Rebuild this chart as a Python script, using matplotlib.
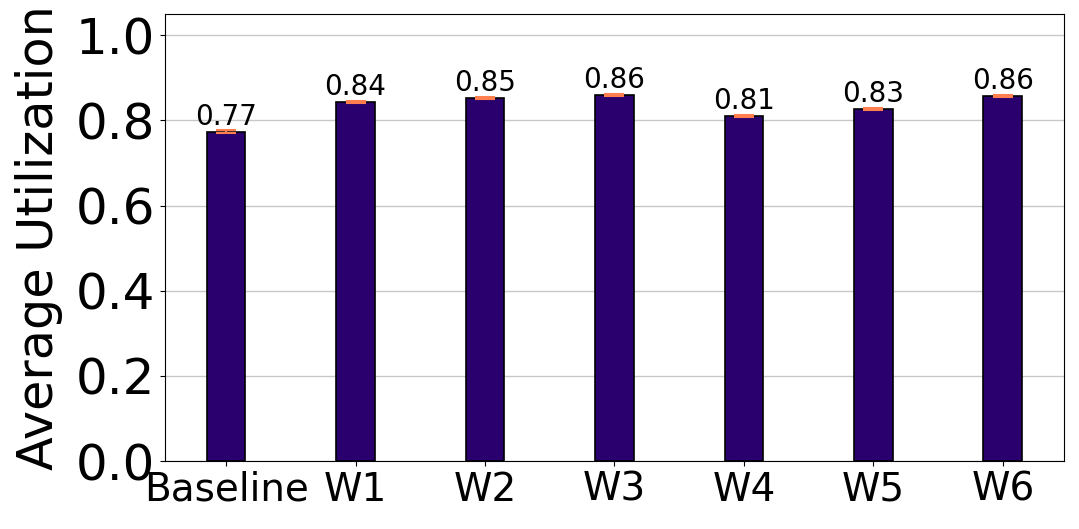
import matplotlib
matplotlib.use("Agg")
import matplotlib.pyplot as plt
import numpy as np

# average utilization per workload (bar heights) and the small spread on top
labels = ["Baseline", "W1", "W2", "W3", "W4", "W5", "W6"]
utilization = [0.774, 0.844, 0.852, 0.859, 0.811, 0.827, 0.857]
spread = [0.003, 0.002, 0.002, 0.002, 0.002, 0.002, 0.002]

fig, ax = plt.subplots(figsize=(10.79, 5.29), dpi=100)
fig.subplots_adjust(left=0.153, right=0.986, bottom=0.1285, top=0.9735)

x = np.arange(len(labels))
ax.bar(x, utilization, width=0.3, color="#2a006e", edgecolor="black", linewidth=1.2, zorder=3)
ax.errorbar(x, utilization, yerr=spread, fmt="none", ecolor="#ff7f50",
            elinewidth=1.5, capsize=7, capthick=1.5, zorder=4)

for xi, v in zip(x, utilization):
    ax.text(xi, v + 0.002, f"{v:.2f}", ha="center", va="bottom", fontsize=20, zorder=5)

ax.set_xticks(x)
ax.set_xticklabels(labels, fontsize=28)
ax.set_xlim(-0.471, 6.471)
ax.set_ylim(0, 1.05)
ax.set_yticks([0.0, 0.2, 0.4, 0.6, 0.8, 1.0])
ax.tick_params(axis="y", labelsize=36)
ax.set_ylabel("Average Utilization", fontsize=35.5)
ax.yaxis.set_label_coords(-0.114, 0.5)
ax.grid(axis="y", color="#c8c8c8", linewidth=1, zorder=0)
ax.set_axisbelow(True)

fig.savefig("out.png", dpi=100)
